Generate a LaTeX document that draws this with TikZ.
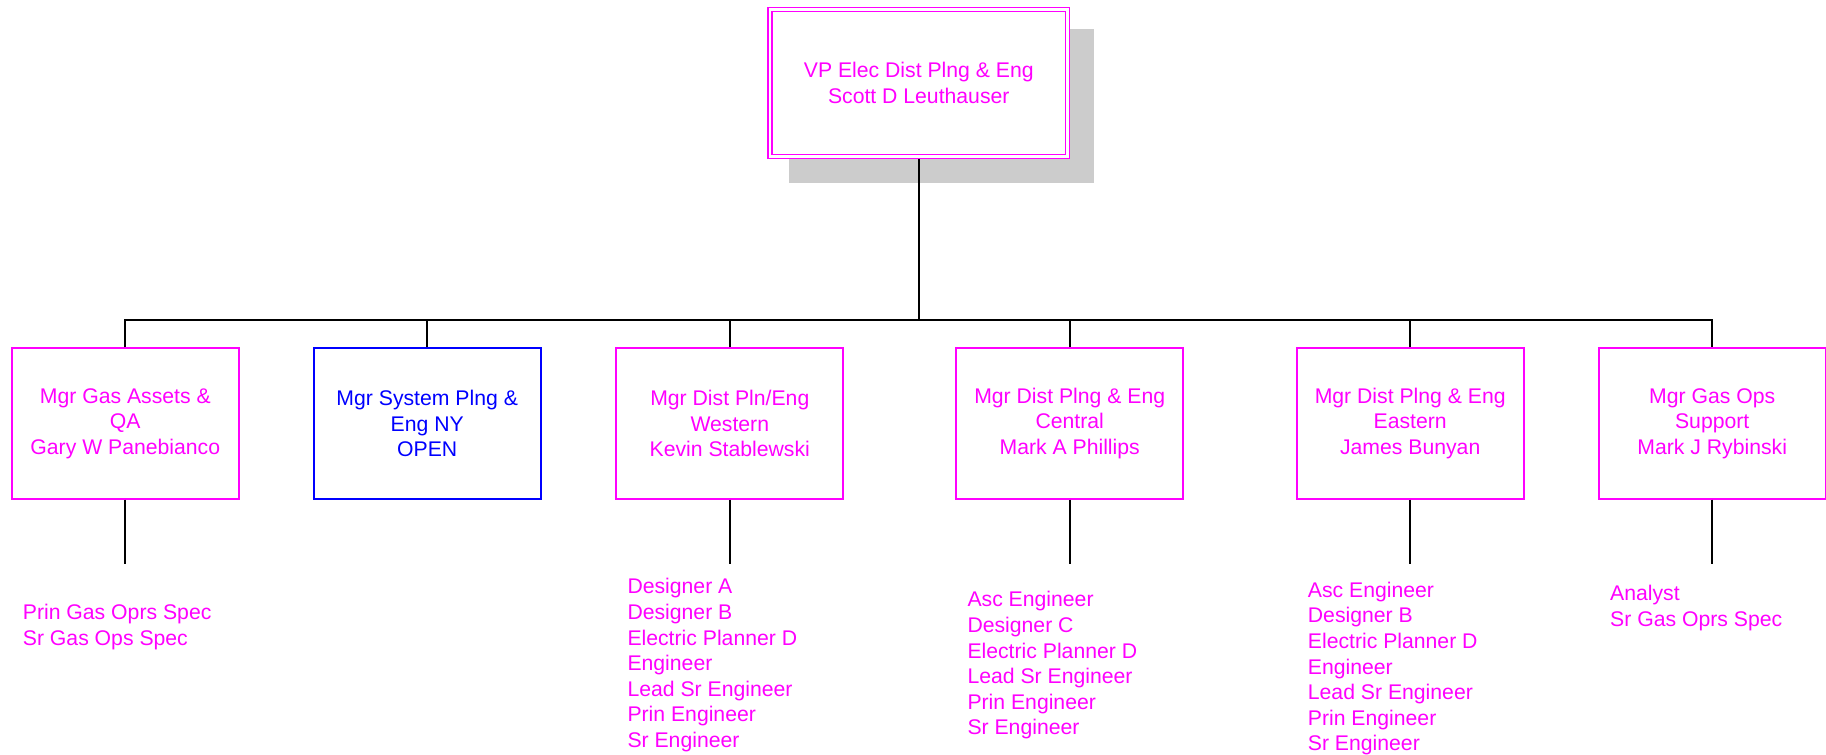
\documentclass[tikz,border=0pt]{standalone}
\usepackage{fontspec}
\setmainfont{Liberation Sans}
\definecolor{mag}{HTML}{FF00FF}
\definecolor{blu}{HTML}{0000FF}
\definecolor{shad}{HTML}{CCCCCC}
\begin{document}
\begin{tikzpicture}[x=1pt,y=-1pt,
  txt/.style={font=\fontsize{21.2}{25.6}\selectfont, text=mag},
  mgr/.style={draw=mag, line width=1.8pt, fill=white, minimum width=227pt,
    minimum height=150.6pt, inner sep=0pt, align=center, txt},
  openbox/.style={mgr, draw=blu, text=blu},
  vpbox/.style={draw=mag, double=white, line width=1.4pt, double distance=2.6pt,
    fill=white, minimum width=297.9pt, minimum height=146.7pt, inner sep=0pt,
    outer sep=2.7pt, align=center, txt},
  roles/.style={txt, align=left, inner sep=0pt, anchor=north west},
  conn/.style={draw=black, line width=1.8pt}]
\useasboundingbox (0,0) rectangle (1826,755);

% shadow of top box
\fill[shad] (789,29) rectangle (1094,183);

% top box
\node[vpbox] (vp) at (918.75,82.85) {VP Elec Dist Plng \& Eng\\Scott D Leuthauser};

% managers
\node[mgr] (b1) at (125.3,423.5) {Mgr Gas Assets \&\\QA\\Gary W Panebianco};
\node[openbox] (b2) at (427.2,423.5) {Mgr System Plng \&\\Eng NY\\OPEN};
\node[mgr] (b3) at (729.8,423.5) {Mgr Dist Pln/Eng\\Western\\Kevin Stablewski};
\node[mgr] (b4) at (1069.7,423.5) {Mgr Dist Plng \& Eng\\Central\\Mark A Phillips};
\node[mgr] (b5) at (1410.2,423.5) {Mgr Dist Plng \& Eng\\Eastern\\James Bunyan};
\node[mgr] (b6) at (1712.2,423.5) {Mgr Gas Ops\\Support\\Mark J Rybinski};

% bus
\coordinate (bus) at (918.75,320);
\draw[conn] (vp.south) -- (bus);
\draw[conn] (b1.north) |- (bus) -| (b6.north);
\foreach \b in {b2,b3,b4,b5}{\draw[conn] (\b.north) -- (\b.north |- bus);}

% lower connectors
\coordinate (e1) at (125.3,564);
\coordinate (e3) at (729.8,564);
\coordinate (e4) at (1069.7,564);
\coordinate (e5) at (1410.2,564);
\coordinate (e6) at (1712.2,564);
\draw[conn] (b1.south) -- (e1);
\draw[conn] (b3.south) -- (e3);
\draw[conn] (b4.south) -- (e4);
\draw[conn] (b5.south) -- (e5);
\draw[conn] (b6.south) -- (e6);

% role lists
\node[roles] (l1) at (22.7,604) {Prin Gas Oprs Spec\\Sr Gas Ops Spec};
\node[roles] (l3) at (627.3,578.3) {Designer A\\Designer B\\Electric Planner D\\Engineer\\Lead Sr Engineer\\Prin Engineer\\Sr Engineer};
\node[roles] (l4) at (967.3,591.3) {Asc Engineer\\Designer C\\Electric Planner D\\Lead Sr Engineer\\Prin Engineer\\Sr Engineer};
\node[roles] (l5) at (1307.7,581.7) {Asc Engineer\\Designer B\\Electric Planner D\\Engineer\\Lead Sr Engineer\\Prin Engineer\\Sr Engineer};
\node[roles] (l6) at (1610,585) {Analyst\\Sr Gas Oprs Spec};
\end{tikzpicture}
\end{document}
